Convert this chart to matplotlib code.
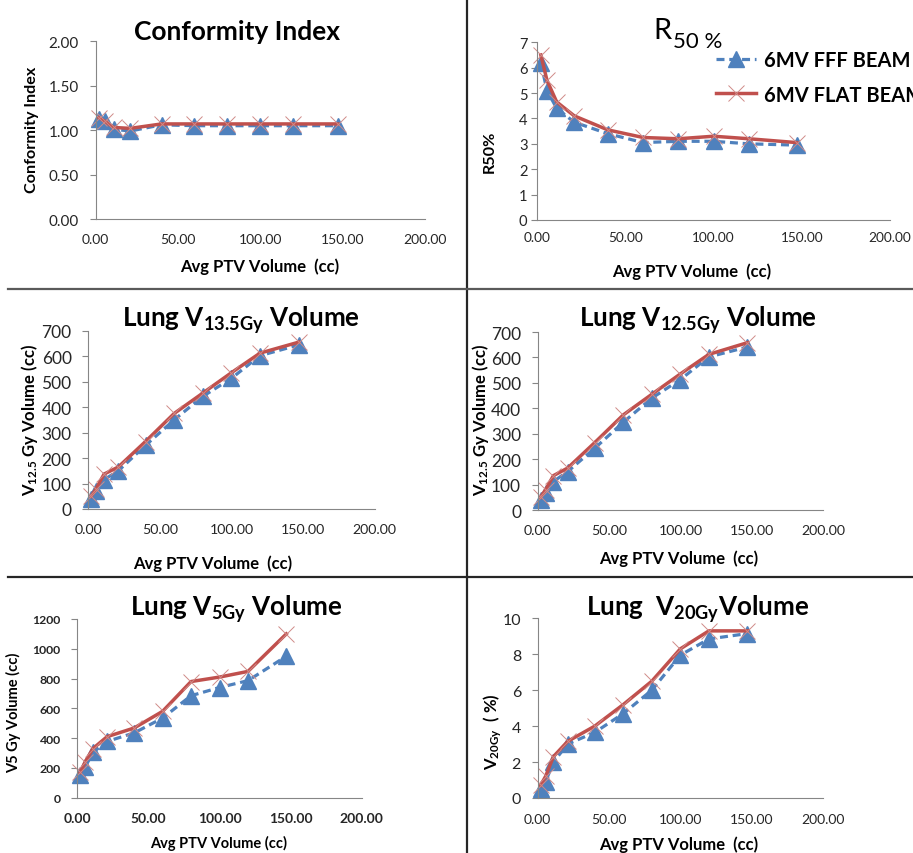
import matplotlib
matplotlib.use("Agg")
import matplotlib.pyplot as plt
from matplotlib.lines import Line2D

plt.rcParams["font.family"] = ["Lato", "DejaVu Sans"]
plt.rcParams["mathtext.fontset"] = "custom"
plt.rcParams["mathtext.rm"] = "Lato:bold"
plt.rcParams["mathtext.bf"] = "Lato:bold"
plt.rcParams["mathtext.it"] = "Lato:bold:italic"

# avg PTV volume (cc) per patient group
ptv_volume = [2, 5.5, 11, 21, 40, 60, 80, 100, 120, 147]

ci_fff = [1.12, 1.10, 1.01, 0.99, 1.06, 1.05, 1.05, 1.05, 1.05, 1.05]
ci_flat = [1.14, 1.10, 1.03, 1.02, 1.07, 1.07, 1.07, 1.07, 1.07, 1.07]

r50_fff = [6.2, 5.1, 4.4, 3.85, 3.4, 3.05, 3.1, 3.1, 3.0, 2.95]
r50_flat = [6.5, 5.5, 4.65, 4.1, 3.55, 3.25, 3.2, 3.3, 3.2, 3.05]

v135_fff = [40, 70, 115, 150, 250, 350, 442, 513, 602, 644]
v135_flat = [50, 80, 137, 165, 265, 375, 455, 535, 612, 655]

v125_fff = [41, 67, 112, 151, 243, 345, 440, 513, 602, 641]
v125_flat = [50, 80, 135, 165, 265, 374, 455, 535, 612, 658]

v5_fff = [150, 205, 305, 378, 435, 535, 685, 740, 786, 950]
v5_flat = [170, 240, 330, 410, 468, 580, 780, 810, 848, 1100]

v20_fff = [0.5, 0.9, 2.0, 3.0, 3.65, 4.7, 6.0, 7.95, 8.85, 9.15]
v20_flat = [0.7, 1.2, 2.3, 3.15, 4.0, 5.2, 6.5, 8.3, 9.3, 9.3]

x_ticks = [0, 50, 100, 150, 200]
x_ticklabels = ["0.00", "50.00", "100.00", "150.00", "200.00"]

BLUE = "#4F81BD"
RED = "#C0504D"
AXIS = "#868686"

W, H = 913, 854
fig = plt.figure(figsize=(W / 100, H / 100), dpi=100)


def rect(x0, x1, ytop, ybot):
    return [x0 / W, 1 - ybot / H, (x1 - x0) / W, (ybot - ytop) / H]


def panel(r, fff, flat, ylim, yticks, yticklabels, ylabel, ylab_xy, xlab_xy,
          ypad=8, xpad=10, ysize=11, xsize=10, tickweight="normal",
          xlabel="Avg PTV Volume  (cc)", xlabsize=12, ylabsize=11.6):
    ax = fig.add_axes(r)
    ax.plot(ptv_volume, fff, color=BLUE, lw=2.3, dashes=(2.5, 1.5),
            marker="^", ms=12, mec=BLUE, mfc=BLUE, clip_on=False,
            label="6MV FFF BEAM")
    ax.plot(ptv_volume, flat, color=RED, lw=2.5, marker="x", ms=12,
            mew=0.7, mec="#D08A88", clip_on=False, label="6MV FLAT BEAM")
    ax.set_xlim(0, 200)
    ax.set_ylim(*ylim)
    ax.set_xticks(x_ticks)
    ax.set_xticklabels(x_ticklabels, fontsize=xsize, fontweight=tickweight)
    ax.set_yticks(yticks)
    ax.set_yticklabels(yticklabels, fontsize=ysize, fontweight=tickweight)
    for s in ["top", "right"]:
        ax.spines[s].set_visible(False)
    for s in ["left", "bottom"]:
        ax.spines[s].set_color(AXIS)
        ax.spines[s].set_linewidth(0.8)
    ax.tick_params(axis="y", length=4, width=0.8, color=AXIS, pad=ypad,
                   labelcolor="#262626")
    ax.tick_params(axis="x", length=0, pad=xpad, labelcolor="#262626")
    ax.set_xlabel(xlabel, fontsize=xlabsize, fontweight="bold")
    ax.set_ylabel(ylabel, fontsize=ylabsize, fontweight="bold")
    ax.xaxis.set_label_coords(*xlab_xy)
    ax.yaxis.set_label_coords(*ylab_xy)
    ax.xaxis.label.set_va("center")
    ax.yaxis.label.set_va("center")
    ax.patch.set_alpha(0)
    return ax


# Conformity index
panel(rect(95.7, 425, 42.3, 220), ci_fff, ci_flat, (0, 2),
      [0, 0.5, 1, 1.5, 2], ["0.00", "0.50", "1.00", "1.50", "2.00"],
      "Conformity Index", (-0.193, 0.509), (0.499, -0.264))
fig.text(237 / W, 1 - 40 / H, "Conformity Index", ha="center",
         va="baseline", fontsize=19, fontweight="bold")

# R50
ax2 = panel(rect(537.3, 890, 43.3, 221), r50_fff, r50_flat, (0, 7),
            list(range(8)), [str(i) for i in range(8)],
            "R50%", (-0.134, 0.39), (0.438, -0.285), ypad=3, xpad=8,
            ysize=10.6, xsize=9.8)
fig.text(672 / W, 1 - 39 / H, "R", ha="right", va="baseline", fontsize=21)
fig.text(673 / W, 1 - 48 / H, "50 %", ha="left", va="baseline",
         fontsize=16)
ax2.legend(loc="upper left", bbox_to_anchor=(716 / W, 1 - 51 / H),
           bbox_transform=fig.transFigure, frameon=False, borderpad=0,
           borderaxespad=0, handlelength=2.0, handletextpad=0.4,
           labelspacing=0.72, prop={"weight": "bold", "size": 14.5})

# Lung V13.5Gy
panel(rect(88.3, 374.5, 331.7, 510), v135_fff, v135_flat, (0, 700),
      list(range(0, 701, 100)), [str(v) for v in range(0, 701, 100)],
      r"V$_{\mathrm{12.5}}$ Gy Volume (cc)", (-0.204, 0.505),
      (0.436, -0.303), ysize=12.5, xsize=10.2, ylabsize=12)
fig.text(241 / W, 1 - 327 / H, r"Lung V$_{\mathrm{13.5Gy}}$ Volume",
         ha="center", va="baseline", fontsize=18.7, fontweight="bold")

# Lung V12.5Gy
panel(rect(537.7, 823, 333, 511), v125_fff, v125_flat, (0, 700),
      list(range(0, 701, 100)), [str(v) for v in range(0, 701, 100)],
      r"V$_{\mathrm{12.5}}$ Gy Volume (cc)", (-0.202, 0.511),
      (0.493, -0.266), ysize=12.5, xsize=10.2, ylabsize=12)
fig.text(698 / W, 1 - 327.3 / H, r"Lung V$_{\mathrm{12.5Gy}}$ Volume",
         ha="center", va="baseline", fontsize=18.7, fontweight="bold")

# Lung V5Gy
panel(rect(77.3, 361.7, 620, 798.7), v5_fff, v5_flat, (0, 1200),
      list(range(0, 1201, 200)), [str(v) for v in range(0, 1201, 200)],
      "V5 Gy Volume (cc)", (-0.225, 0.478), (0.496, -0.25),
      ysize=8.8, xsize=10, tickweight="bold", xlabel="Avg PTV Volume (cc)",
      xlabsize=10.5, ylabsize=10.5)
fig.text(236.7 / W, 1 - 616 / H, r"Lung V$_{\mathrm{5Gy}}$ Volume",
         ha="center", va="baseline", fontsize=18.7, fontweight="bold")

# Lung V20Gy
panel(rect(537.7, 823, 619.3, 799), v20_fff, v20_flat, (0, 10),
      list(range(0, 11, 2)), [str(v) for v in range(0, 11, 2)],
      r"V$_{\mathrm{20Gy}}$  ( %)", (-0.156, 0.375), (0.493, -0.256),
      ysize=11.5, xsize=10, xpad=10.5, ylabsize=12)
fig.text(698 / W, 1 - 616 / H, r"Lung  V$_{\mathrm{20Gy}}$Volume",
         ha="center", va="baseline", fontsize=18.7, fontweight="bold")

# table borders between the panels
fig.add_artist(Line2D([466.7 / W] * 2, [0, 1], transform=fig.transFigure,
                      color="#262626", lw=1.6))
fig.add_artist(Line2D([8 / W, 1], [1 - 290 / H] * 2,
                      transform=fig.transFigure, color="#5a5a5a", lw=1.6))
fig.add_artist(Line2D([8 / W, 1], [1 - 578 / H] * 2,
                      transform=fig.transFigure, color="#262626", lw=1.6))

fig.savefig("out.png", dpi=100)
